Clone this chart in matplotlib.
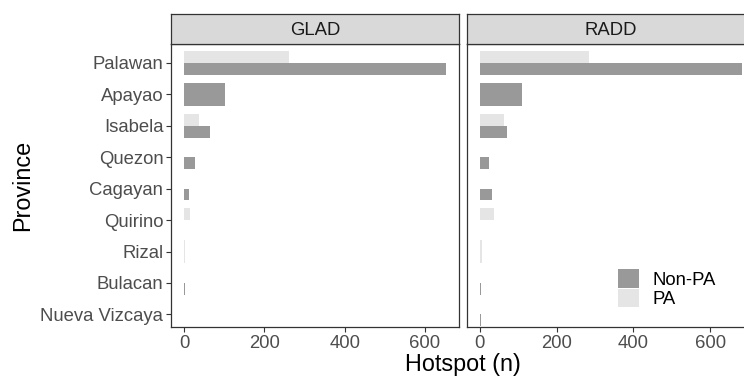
import matplotlib
matplotlib.use("Agg")
import matplotlib.pyplot as plt
from matplotlib.patches import Patch

plt.rcParams['font.family'] = ['Liberation Sans', 'DejaVu Sans']

provinces = ["Palawan", "Apayao", "Isabela", "Quezon", "Cagayan",
             "Quirino", "Rizal", "Bulacan", "Nueva Vizcaya"]
panels = ["GLAD", "RADD"]
glad_nonpa = [652, 102, 65, 26, 12, 1, None, 3, None]
glad_pa = [261, None, 37, 1, 1, 15, 2, 1, 1]
radd_nonpa = [682, 109, 70, 25, 33, 1, None, 3, 2]
radd_pa = [284, None, 62, 1, 1, 38, 5, 1, 1]
x_ticks = [0, 200, 400, 600]
groups = ["Non-PA", "PA"]

col_nonpa = "#999999"
col_pa = "#E5E5E5"
dark = "#333333"
tick_col = "#4D4D4D"

W, H = 744, 378
fig = plt.figure(figsize=(W / 100, H / 100), dpi=100)

panel_w = 288.0
lefts = [171.0, 466.7]
top_px, bot_px = 44.0, 327.0
strip_top = 14.3

def fx(px):
    return px / W

def fy(py):
    return 1 - py / H

data = {"GLAD": (glad_nonpa, glad_pa), "RADD": (radd_nonpa, radd_pa)}
width = 0.75
fs = 13.3

for i, name in enumerate(panels):
    nonpa, pa = data[name]
    left = lefts[i]
    ax = fig.add_axes([fx(left), fy(bot_px), panel_w / W, (bot_px - top_px) / H])
    vals = [v for v in nonpa + pa if v is not None]
    m = max(vals)
    ax.set_xlim(-0.05 * m, 1.05 * m)
    ax.set_ylim(len(provinces) + 0.4, 0.4)
    for j in range(len(provinces)):
        pos = j + 1
        a, b = nonpa[j], pa[j]
        if a is not None and b is not None:
            ax.barh(pos - width / 4, b, height=width / 2, color=col_pa, linewidth=0)
            ax.barh(pos + width / 4, a, height=width / 2, color=col_nonpa, linewidth=0)
        elif a is not None:
            ax.barh(pos, a, height=width, color=col_nonpa, linewidth=0)
        elif b is not None:
            ax.barh(pos, b, height=width, color=col_pa, linewidth=0)
    ax.set_xticks(x_ticks)
    ax.set_xticklabels([str(t) for t in x_ticks])
    ax.set_yticks(range(1, len(provinces) + 1))
    ax.tick_params(axis='both', colors=dark, labelcolor=tick_col, labelsize=fs,
                   length=3.5, width=0.8, pad=2)
    if i == 0:
        ax.set_yticklabels(provinces)
    else:
        ax.set_yticklabels([])
        ax.tick_params(axis='y', length=0)
    for s in ax.spines.values():
        s.set_color(dark)
        s.set_linewidth(0.9)
    # strip
    sax = fig.add_axes([fx(left), fy(top_px), panel_w / W, (top_px - strip_top) / H])
    sax.set_xticks([])
    sax.set_yticks([])
    sax.set_facecolor("#D9D9D9")
    for s in sax.spines.values():
        s.set_color(dark)
        s.set_linewidth(0.9)
    sax.text(0.5, 0.47, name, transform=sax.transAxes, ha='center', va='center',
             fontsize=fs, color="#1A1A1A")

fig.text(fx(23), fy(185.5), "Province", rotation=90, ha='center', va='center',
         fontsize=16.8, color='black')
fig.text(fx(462.8), fy(370.7), "Hotspot (n)", ha='center', va='baseline',
         fontsize=16.8, color='black')

handles = [Patch(facecolor=col_nonpa, edgecolor='none'),
           Patch(facecolor=col_pa, edgecolor='none')]
fig.legend(handles, groups, loc='upper left', bbox_to_anchor=(fx(618), fy(269.3)),
           bbox_transform=fig.transFigure, frameon=False, fontsize=fs,
           handlelength=1.15, handleheight=1.15, labelspacing=0.0,
           handletextpad=0.7, borderpad=0, borderaxespad=0)

fig.savefig("out.png", dpi=100)
